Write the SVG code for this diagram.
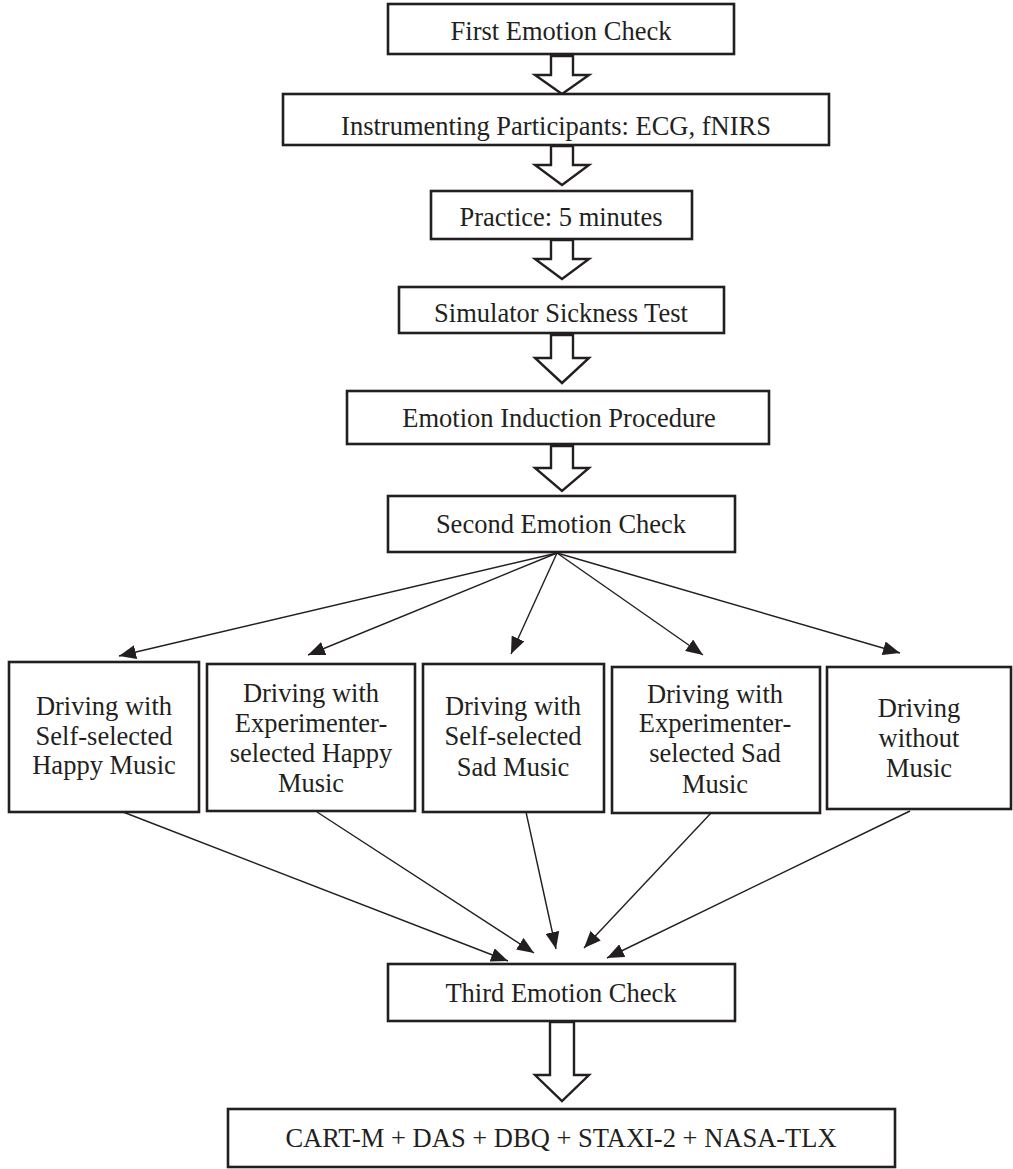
<svg xmlns="http://www.w3.org/2000/svg" width="1013" height="1169" viewBox="0 0 1013 1169">
<style>
.box{fill:#fff;stroke:#231f20;stroke-width:2.6}
.blk{fill:#fff;stroke:#231f20;stroke-width:2.4;stroke-linejoin:miter}
.t{font-family:"Liberation Serif","Times New Roman",serif;font-size:26.5px;fill:#231f20;text-anchor:middle}
.ln{stroke:#231f20;stroke-width:1.4;fill:none;marker-end:url(#ah)}
</style>
<defs>
<marker id="ah" markerUnits="userSpaceOnUse" markerWidth="18" markerHeight="14" refX="17" refY="7" orient="auto">
<path d="M0,0 L17,7 L0,14 z" fill="#231f20"/>
</marker>
</defs>
<rect width="1013" height="1169" fill="#fff"/>

<g id="connectors">
<polygon class="blk" points="551,56 573,56 573,75 589,75 562,94 535,75 551,75"/>
<polygon class="blk" points="551,146 573,146 573,165 589,165 562,185 535,165 551,165"/>
<polygon class="blk" points="551,240 573,240 573,259 589,259 562,279 535,259 551,259"/>
<polygon class="blk" points="551,335 573,335 573,358 589,358 562,383 535,358 551,358"/>
<polygon class="blk" points="551,446 573,446 573,468 589,468 562,491 535,468 551,468"/>
<polygon class="blk" points="550,1022 574,1022 574,1075 589,1075 562,1101 535,1075 550,1075"/>
<line class="ln" x1="557" y1="553" x2="119" y2="656"/>
<line class="ln" x1="557" y1="553" x2="308" y2="655"/>
<line class="ln" x1="557" y1="553" x2="511" y2="654"/>
<line class="ln" x1="557" y1="553" x2="703" y2="655"/>
<line class="ln" x1="557" y1="553" x2="900" y2="653"/>
<line class="ln" x1="123" y1="812" x2="508" y2="961"/>
<line class="ln" x1="317" y1="812" x2="534" y2="953"/>
<line class="ln" x1="526" y1="812" x2="556" y2="949"/>
<line class="ln" x1="712" y1="812" x2="584" y2="948"/>
<line class="ln" x1="910" y1="811" x2="607" y2="958"/>
</g>

<g id="n1"><rect class="box" x="388" y="4" width="346" height="50"/><text class="t" x="561" y="40">First Emotion Check</text></g>
<g id="n2"><rect class="box" x="283" y="94" width="546" height="51"/><text class="t" x="556" y="135">Instrumenting Participants: ECG, fNIRS</text></g>
<g id="n3"><rect class="box" x="431" y="191" width="261" height="48"/><text class="t" x="561" y="226">Practice: 5 minutes</text></g>
<g id="n4"><rect class="box" x="399" y="287" width="325" height="46"/><text class="t" x="561" y="322">Simulator Sickness Test</text></g>
<g id="n5"><rect class="box" x="347" y="391" width="422" height="53"/><text class="t" x="559" y="427">Emotion Induction Procedure</text></g>
<g id="n6"><rect class="box" x="388" y="496" width="347" height="56"/><text class="t" x="561" y="533">Second Emotion Check</text></g>

<g id="n7"><rect class="box" x="9" y="662" width="190" height="150"/>
<text class="t" x="104" y="715">Driving with</text><text class="t" x="104" y="745">Self-selected</text><text class="t" x="104" y="774">Happy Music</text></g>
<g id="n8"><rect class="box" x="207" y="664" width="208" height="147"/>
<text class="t" x="311" y="702">Driving with</text><text class="t" x="311" y="732">Experimenter-</text><text class="t" x="311" y="762">selected Happy</text><text class="t" x="311" y="792">Music</text></g>
<g id="n9"><rect class="box" x="423" y="664" width="181" height="148"/>
<text class="t" x="513" y="715">Driving with</text><text class="t" x="513" y="745">Self-selected</text><text class="t" x="513" y="776">Sad Music</text></g>
<g id="n10"><rect class="box" x="612" y="667" width="208" height="146"/>
<text class="t" x="715" y="703">Driving with</text><text class="t" x="715" y="732">Experimenter-</text><text class="t" x="715" y="762">selected Sad</text><text class="t" x="715" y="793">Music</text></g>
<g id="n11"><rect class="box" x="827" y="667" width="184" height="142"/>
<text class="t" x="919" y="717">Driving</text><text class="t" x="919" y="747">without</text><text class="t" x="919" y="777">Music</text></g>

<g id="n12"><rect class="box" x="388" y="964" width="347" height="57"/><text class="t" x="561" y="1002">Third Emotion Check</text></g>
<g id="n13"><rect class="box" x="228" y="1109" width="667" height="58"/><text class="t" x="561" y="1147">CART-M + DAS + DBQ + STAXI-2 + NASA-TLX</text></g>
</svg>
